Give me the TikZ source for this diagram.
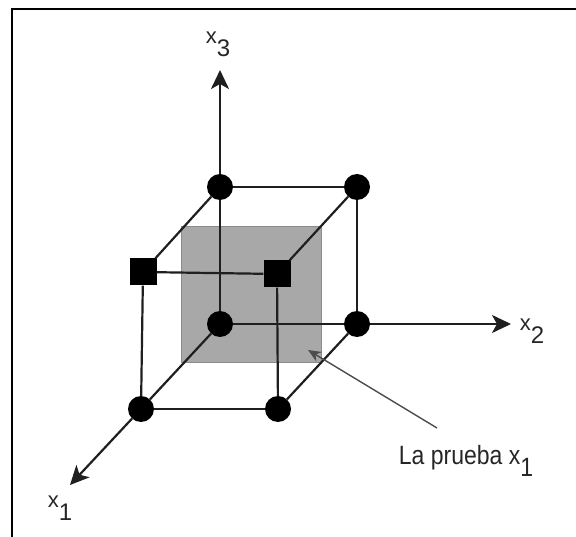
\documentclass[tikz,border=0pt]{standalone}
\usepackage{fontspec}
\setmainfont{Liberation Sans}
\usetikzlibrary{arrows.meta,positioning}
\newcommand{\xsub}[2][13pt]{{\fontsize{22}{22}\selectfont x}\raisebox{-#1}{\fontsize{24}{24}\selectfont #2}}

\begin{document}
\begin{tikzpicture}[x=1pt, y=-1pt,
    dot/.style={circle, fill=black, inner sep=0pt, minimum size=26pt},
    sq/.style={rectangle, fill=black, inner sep=0pt, minimum size=27pt},
    edge/.style={draw=black!88, line width=2.2pt},
    axis/.style={draw=black!88, line width=2.2pt, -{Stealth[length=19pt,width=18pt,inset=5pt]}},
    lbl/.style={inner sep=0pt, text=black!85},
    call/.style={draw=black!70, line width=1.4pt, -{Stealth[length=13pt,width=11pt]}}
    ]
    \useasboundingbox (0,0) rectangle (576,537);
    \draw[line width=2pt] (576,9) -- (12,9) -- (12,537);

    % shaded test plane
    \node[rectangle, fill=black!34, draw=black!45, line width=1pt, minimum width=140pt, minimum height=136pt] (cut) at (251,295) {};

    % cube corners
    \node[dot] (o) at (220,324) {};
    \node[dot] (b2) at (357,324) {};
    \node[dot] (t3) at (220,187) {};
    \node[dot] (t23) at (357,187) {};
    \node[dot] (f1) at (141,409) {};
    \node[dot] (f12) at (278,409) {};
    \node[sq] (s13) at (143,272) {};
    \node[sq] (s123) at (277,274) {};

    \coordinate (tip3) at (220,70);
    \coordinate (tip2) at (511,324);
    \coordinate (tip1) at (70,485);

    % labels
    \node[lbl] (l3) at (218,44) {\xsub{3}};
    \node[lbl] (l2) at (532,331) {\xsub{2}};
    \node[lbl] (l1) at (60,508) {\xsub{1}};
    \node[lbl] (note) at (466,461) {\scalebox{1}[1.15]{\fontsize{23}{23}\selectfont La prueba x\raisebox{-10pt}{\fontsize{23}{23}\selectfont 1}}};
    \coordinate (cstart) at (437,428);
    \coordinate (ctip) at (308,350);

    % edges
    \draw[edge] (o) -- (t3);
    \draw[edge] (o) -- (b2);
    \draw[edge] (o) -- (f1);
    \draw[edge] (t3) -- (t23);
    \draw[edge] (t3) -- (s13);
    \draw[edge] (t23) -- (s123);
    \draw[edge] (t23) -- (b2);
    \draw[edge] (s13) -- (s123);
    \draw[edge] (s13) -- (f1);
    \draw[edge] (s123) -- (f12);
    \draw[edge] (f1) -- (f12);
    \draw[edge] (b2) -- (f12);

    % axes
    \draw[axis] (t3) -- (tip3);
    \draw[axis] (b2) -- (tip2);
    \draw[axis] (f1) -- (tip1);

    \draw[call] (cstart) -- (ctip);
\end{tikzpicture}
\end{document}
